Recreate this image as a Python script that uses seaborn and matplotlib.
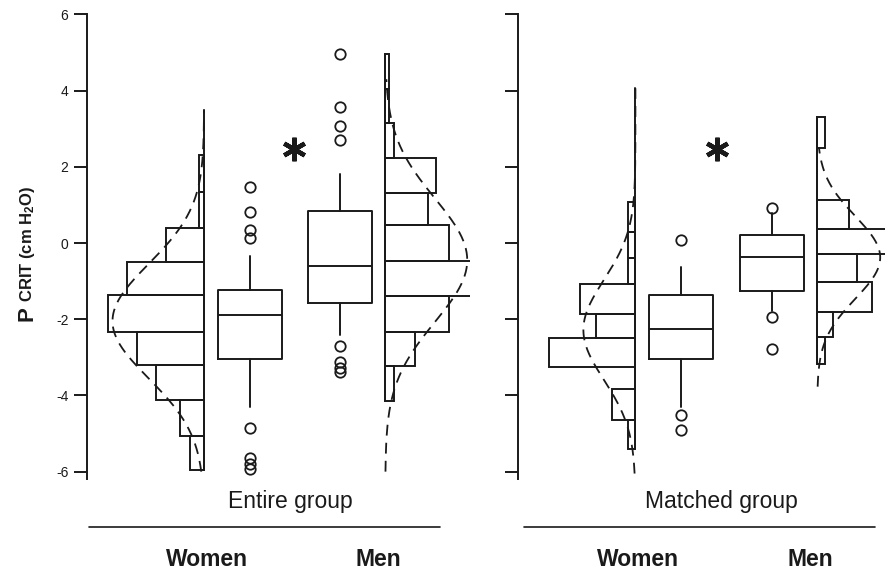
import numpy as np
import seaborn as sns
import matplotlib.pyplot as plt
from matplotlib.lines import Line2D

# ---- data (P CRIT, cm H2O) ----
# histogram bin edges (bottom -> top) and counts per bin
ew_edges = [-5.97, -5.06, -4.13, -3.20, -2.33, -1.36, -0.49, 0.40, 1.35, 2.31]
ew_counts = [3, 5, 10, 14, 20, 16, 8, 1, 1]
em_edges = [-4.15, -3.22, -2.33, -1.39, -0.47, 0.47, 1.32, 2.24, 3.14, 4.05, 4.96]
em_counts = [2, 7, 15, 21, 15, 10, 12, 2, 1, 1]
mw_edges = [-5.41, -4.65, -3.84, -3.26, -2.49, -1.85, -1.08, -0.38, 0.30, 1.08]
mw_counts = [1, 3, 0, 11, 5, 7, 1, 1, 1]
mm_edges = [-3.18, -2.46, -1.80, -1.03, -0.30, 0.38, 1.12, 1.86, 2.50, 3.30]
mm_counts = [1, 2, 7, 5, 10, 4, 0, 0, 1]

# fitted normal curves: mean, sd, drawn range
ew_fit = (-2.05, 1.50, -6.00, 3.50)
em_fit = (-0.45, 1.62, -6.00, 4.30)
mw_fit = (-2.28, 1.31, -6.05, 4.06)
mm_fit = (-0.38, 1.08, -3.77, 2.50)

# box plot summaries: whislo, q1, med, q3, whishi, outliers
ew_box = (-4.30, -3.04, -1.89, -1.23, -0.34, [1.48, 0.81, 0.34, 0.12, -4.85, -5.63, -5.80, -5.93])
em_box = (-2.41, -1.58, -0.60, 0.84, 1.80, [4.95, 3.58, 3.07, 2.70, -2.70, -3.11, -3.29, -3.39])
mw_box = (-4.30, -3.04, -2.26, -1.36, -0.62, [0.08, -4.51, -4.91])
mm_box = (-1.78, -1.25, -0.36, 0.21, 0.80, [0.93, -1.93, -2.79])

groups = ['Women', 'Men']
panels = ['Entire group', 'Matched group']
y_ticks = [-6, -4, -2, 0, 2, 4, 6]

# ---- style ----
sns.set_style('ticks')
plt.rcParams['font.family'] = ['Liberation Sans', 'DejaVu Sans']
plt.rcParams['axes.unicode_minus'] = False
plt.rcParams['mathtext.fontset'] = 'custom'
plt.rcParams['mathtext.rm'] = 'Liberation Sans'
plt.rcParams['mathtext.bf'] = 'Liberation Sans:bold'
plt.rcParams['mathtext.default'] = 'bf'

INK = '#1a1a1a'
LW = 1.4
UNIT = 64.0  # px per x unit (one box width)
W, H = 885, 572


def px(x, y):
    return x / W, 1 - y / H


def draw_hist(ax, base, edges, counts, px_per_count, side):
    edges = np.asarray(edges)
    lengths = np.asarray(counts) * px_per_count / UNIT * side
    ax.barh(edges[:-1], lengths, height=np.diff(edges), left=base, align='edge',
            fill=False, edgecolor=INK, linewidth=LW)


def draw_curve(ax, base, edges, counts, px_per_count, fit, side):
    mu, sd, lo, hi = fit
    edges = np.asarray(edges)
    n = np.sum(counts)
    bw = (edges[-1] - edges[0]) / (len(edges) - 1)
    amp = n * bw * px_per_count / UNIT / (sd * np.sqrt(2 * np.pi))
    yy = np.linspace(lo, hi, 300)
    xx = base + side * amp * np.exp(-0.5 * ((yy - mu) / sd) ** 2)
    sns.lineplot(x=xx, y=yy, sort=False, estimator=None, ax=ax, color=INK,
                 linewidth=1.3, dashes=False, linestyle=(0, (6, 4)))
    ax.plot([base, base], [edges[0], max(edges[-1], hi)], color=INK, lw=LW)


def draw_box(ax, pos, box):
    lo, q1, med, q3, hi, out = box
    stats = [dict(whislo=lo, q1=q1, med=med, q3=q3, whishi=hi, fliers=out)]
    ax.bxp(stats, positions=[pos], widths=1.0, showcaps=False, manage_ticks=False,
           boxprops=dict(color=INK, lw=LW), whiskerprops=dict(color=INK, lw=LW),
           medianprops=dict(color=INK, lw=LW),
           flierprops=dict(marker='o', mfc='none', mec=INK, ms=7.5, mew=1.3))


fig = plt.figure(figsize=(W / 100, H / 100), dpi=100)

y_top, y_bot = 14.4, 478.5
layout = [
    # spine x, axes width, hist/box positions (x units), star x
    dict(left=87, width=383, hw=1.83, bw=2.54, bm=3.95, hm=4.66, star=3.23,
         data=(ew_edges, ew_counts, ew_fit, ew_box, 4.8, em_edges, em_counts, em_fit, em_box, 4.25),
         labels=True),
    dict(left=518.3, width=366.7, hw=1.83, bw=2.54, bm=3.96, hm=4.67, star=3.11,
         data=(mw_edges, mw_counts, mw_fit, mw_box, 7.9, mm_edges, mm_counts, mm_fit, mm_box, 7.9),
         labels=False),
]

for lay in layout:
    x0, y0 = px(lay['left'], y_bot)
    ax = fig.add_axes([x0, y0, lay['width'] / W, (y_bot - y_top) / H])
    wed, wct, wfit, wbox, wpx, med_, mct, mfit, mbox, mpx = lay['data']

    draw_hist(ax, lay['hw'], wed, wct, wpx, -1)
    draw_curve(ax, lay['hw'], wed, wct, wpx, wfit, -1)
    draw_hist(ax, lay['hm'], med_, mct, mpx, 1)
    draw_curve(ax, lay['hm'], med_, mct, mpx, mfit, 1)
    draw_box(ax, lay['bw'], wbox)
    draw_box(ax, lay['bm'], mbox)
    ax.plot([lay['star']], [2.47], marker=(6, 2, 0), ms=17, mew=3.2, color=INK)

    ax.set_xlim(0, lay['width'] / UNIT)
    ax.set_ylim(-6.18, 6.0)
    ax.set_yticks(y_ticks)
    if not lay['labels']:
        ax.set_yticklabels([])
    ax.set_xticks([])
    ax.set_xlabel('')
    ax.set_ylabel('')
    for s in ['top', 'right', 'bottom']:
        ax.spines[s].set_visible(False)
    ax.spines['left'].set_linewidth(LW)
    ax.spines['left'].set_color(INK)
    ax.tick_params(axis='y', length=9.4, width=LW, color=INK, pad=4,
                   labelsize=10, labelcolor=INK)
    ax.patch.set_alpha(0)

# y label: big P, then smaller CRIT (cm H2O)
fig.text(*px(32, 321), 'P', rotation=90, rotation_mode='anchor', ha='left',
         va='baseline', fontsize=16, fontweight='bold', color=INK)
fig.text(*px(32, 302), 'CRIT (cm H$_2$O)', rotation=90, rotation_mode='anchor',
         ha='left', va='baseline', fontsize=12, fontweight='bold', color=INK)

# group captions, rules and sex labels
for name, cx, (l0, l1), (xw, xm) in [(panels[0], 290, (89, 440), (207, 378)),
                                      (panels[1], 721.7, (524, 875), (638, 810))]:
    fig.text(*px(cx, 508), name, ha='center', va='baseline', fontsize=16.5, color=INK)
    fig.add_artist(Line2D([l0 / W, l1 / W], [1 - 527.3 / H] * 2, color=INK, lw=1.2,
                          transform=fig.transFigure))
    fig.text(*px(xw, 566), groups[0], ha='center', va='baseline', fontsize=16.5,
             fontweight='bold', color=INK)
    fig.text(*px(xm, 566), groups[1], ha='center', va='baseline', fontsize=16.5,
             fontweight='bold', color=INK)

fig.savefig('out.png', dpi=100)
